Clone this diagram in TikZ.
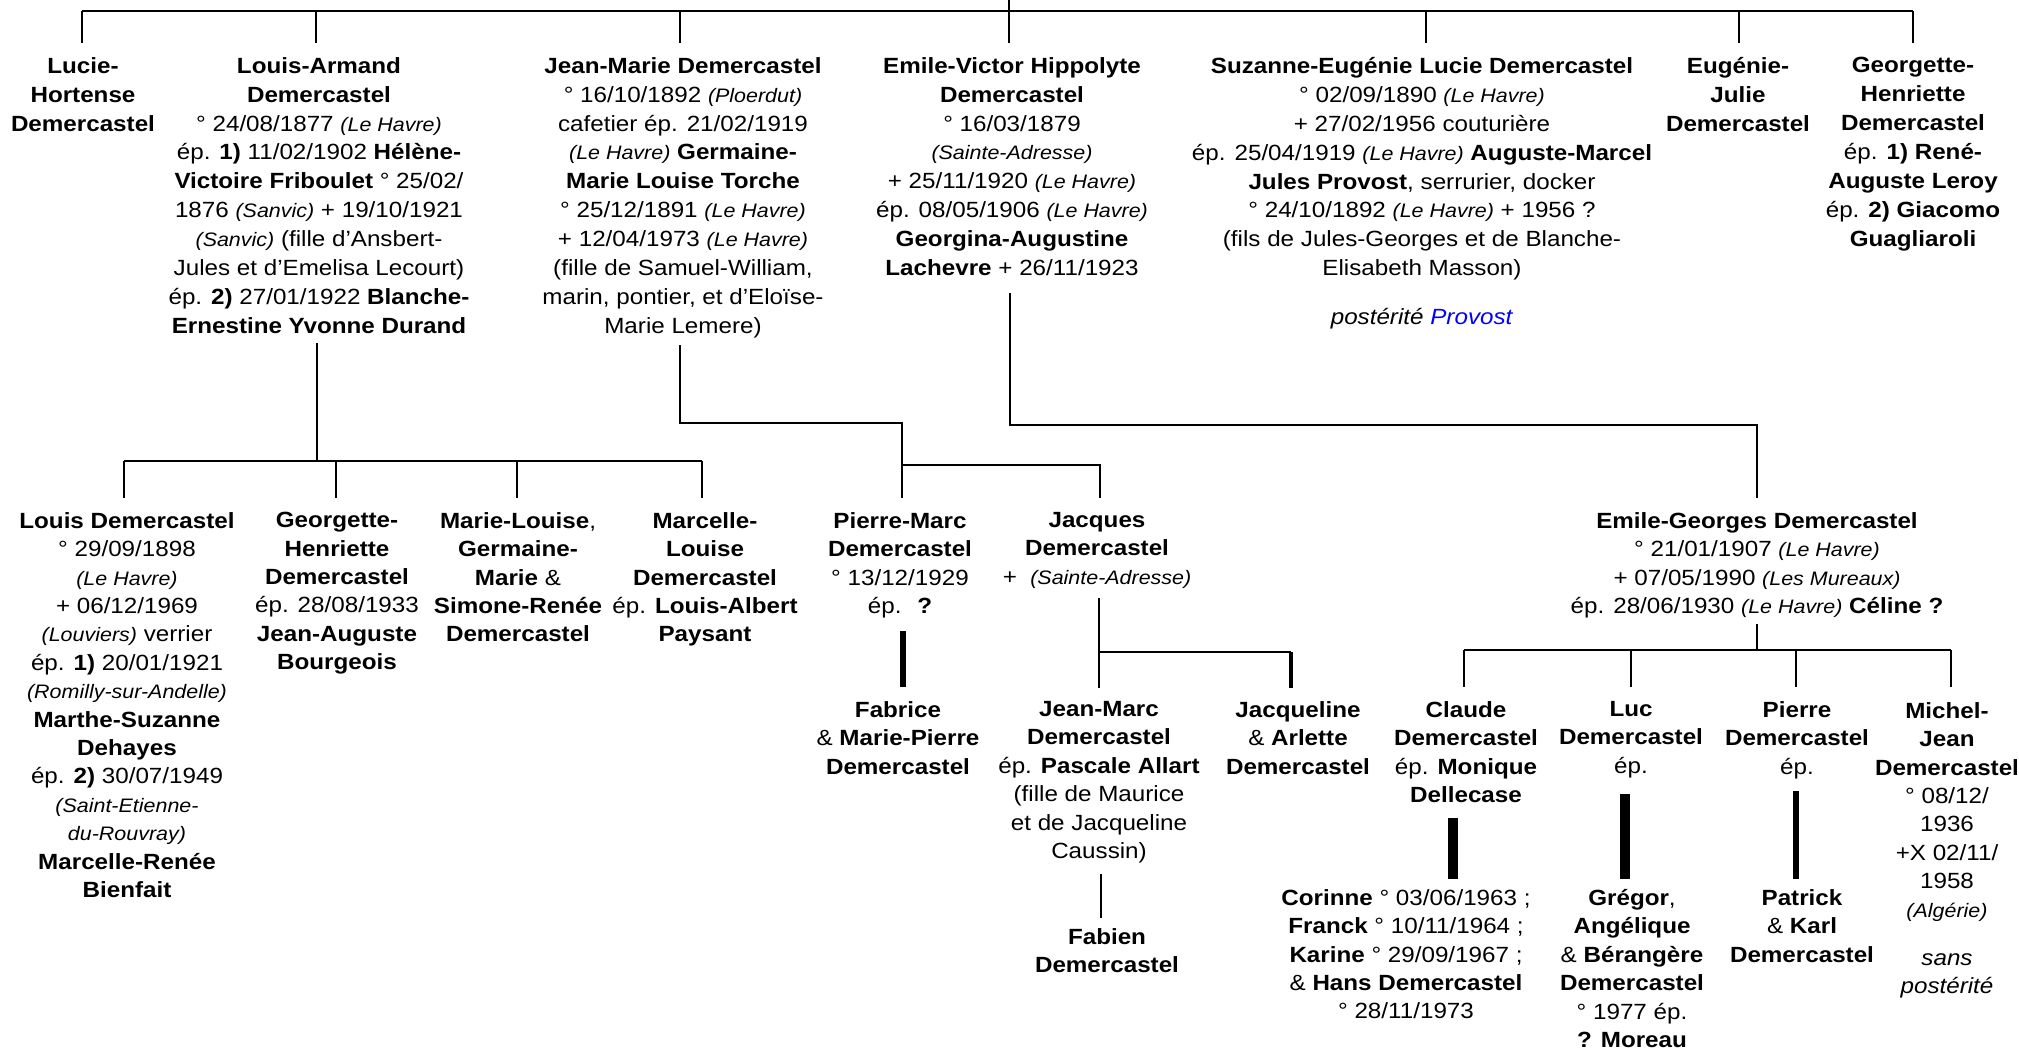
\documentclass[tikz,border=0pt]{standalone}
\usepackage{fontspec}
\setmainfont{Liberation Sans}[FakeStretch=1.1]
\newcommand\plc[1]{{\fontsize{19.5}{28.4}\selectfont\itshape #1}}
\newcommand\nm[1]{\textbf{#1}}
\begin{document}
\begin{tikzpicture}[x=1pt,y=-1pt,
  person/.style={align=center, anchor=north, yshift=19.9pt, inner sep=0pt,
    font=\fontsize{22}{28.4}\selectfont, execute at begin node={\rule{0pt}{19.9pt}}},
  toprow/.style={person, font=\fontsize{22}{28.9}\selectfont},
  link/.style={line width=2.6pt, line join=miter, line cap=butt},
  heavy/.style={line width=#1, line cap=butt}]
\fill[white] (0,0) rectangle (2019,1050);
\useasboundingbox (0,0) rectangle (2019,1050);

% ---------- generation 1 ----------
\node[toprow] (lucie) at (83,77) {\nm{Lucie-}\\\nm{Hortense}\\\nm{Demercastel}};
\node[toprow] (louisA) at (319,77) {\nm{Louis-Armand}\\\nm{Demercastel}\\
° 24/08/1877 \plc{(Le Havre)}\\
ép. \nm{1)} 11/02/1902 \nm{Hélène-}\\
\nm{Victoire Friboulet} ° 25/02/\\
1876 \plc{(Sanvic)} + 19/10/1921\\
\plc{(Sanvic)} (fille d’Ansbert-\\
Jules et d’Emelisa Lecourt)\\
ép. \nm{2)} 27/01/1922 \nm{Blanche-}\\
\nm{Ernestine Yvonne Durand}};
\node[toprow] (jeanM) at (683,77) {\nm{Jean-Marie Demercastel}\\
° 16/10/1892 \plc{(Ploerdut)}\\
cafetier ép. 21/02/1919\\
\plc{(Le Havre)} \nm{Germaine-}\\
\nm{Marie Louise Torche}\\
° 25/12/1891 \plc{(Le Havre)}\\
+ 12/04/1973 \plc{(Le Havre)}\\
(fille de Samuel-William,\\
marin, pontier, et d’Eloïse-\\
Marie Lemere)};
\node[toprow] (emileV) at (1012,77) {\nm{Emile-Victor Hippolyte}\\\nm{Demercastel}\\
° 16/03/1879\\
\plc{(Sainte-Adresse)}\\
+ 25/11/1920 \plc{(Le Havre)}\\
ép. 08/05/1906 \plc{(Le Havre)}\\
\nm{Georgina-Augustine}\\
\nm{Lachevre} + 26/11/1923};
\node[toprow] (suzanne) at (1422,77) {\nm{Suzanne-Eugénie Lucie Demercastel}\\
° 02/09/1890 \plc{(Le Havre)}\\
+ 27/02/1956 couturière\\
ép. 25/04/1919 \plc{(Le Havre)} \nm{Auguste-Marcel}\\
\nm{Jules Provost}, serrurier, docker\\
° 24/10/1892 \plc{(Le Havre)} + 1956 ?\\
(fils de Jules-Georges et de Blanche-\\
Elisabeth Masson)};
\node[person] (provost) at (1422,324) {\textit{postérité} \textcolor{blue}{\textit{Provost}}};
\node[toprow] (eugenie) at (1738,77) {\nm{Eugénie-}\\\nm{Julie}\\\nm{Demercastel}};
\node[toprow] (georgette) at (1913,77) {\nm{Georgette-}\\\nm{Henriette}\\\nm{Demercastel}\\
ép. \nm{1) René-}\\\nm{Auguste Leroy}\\ép. \nm{2) Giacomo}\\\nm{Guagliaroli}};

% ---------- generation 2 ----------
\node[person] (louis) at (127,532) {\nm{Louis Demercastel}\\
° 29/09/1898\\
\plc{(Le Havre)}\\
+ 06/12/1969\\
\plc{(Louviers)} verrier\\
ép. \nm{1)} 20/01/1921\\
\plc{(Romilly-sur-Andelle)}\\
\nm{Marthe-Suzanne}\\
\nm{Dehayes}\\
ép. \nm{2)} 30/07/1949\\
\plc{(Saint-Etienne-}\\
\plc{du-Rouvray)}\\
\nm{Marcelle-Renée}\\
\nm{Bienfait}};
\node[person] (georgette2) at (337,532) {\nm{Georgette-}\\\nm{Henriette}\\\nm{Demercastel}\\
ép. 28/08/1933\\\nm{Jean-Auguste}\\\nm{Bourgeois}};
\node[person] (marieL) at (518,532) {\nm{Marie-Louise}, \\\nm{Germaine-}\\\nm{Marie} \& \\\nm{Simone-Renée}\\\nm{Demercastel}};
\node[person] (marcelle) at (705,532) {\nm{Marcelle-}\\\nm{Louise}\\\nm{Demercastel}\\ép. \nm{Louis-Albert}\\\nm{Paysant}};
\node[person] (pierreM) at (900,532) {\nm{Pierre-Marc}\\\nm{Demercastel}\\° 13/12/1929\\ép.~ \nm{?}};
\node[person] (jacques) at (1097,532) {\nm{Jacques}\\\nm{Demercastel}\\+~ \plc{(Sainte-Adresse)}};
\node[person] (emileG) at (1757,532) {\nm{Emile-Georges Demercastel}\\
° 21/01/1907 \plc{(Le Havre)}\\
+ 07/05/1990 \plc{(Les Mureaux)}\\
ép. 28/06/1930 \plc{(Le Havre)} \nm{Céline ?}};

% ---------- generation 3 ----------
\node[person] (fabrice) at (898,721) {\nm{Fabrice}\\\& \nm{Marie-Pierre}\\\nm{Demercastel}};
\node[person] (jeanMarc) at (1099,721) {\nm{Jean-Marc}\\\nm{Demercastel}\\ép. \nm{Pascale Allart}\\(fille de Maurice\\et de Jacqueline\\Caussin)};
\node[person] (jacqueline) at (1298,721) {\nm{Jacqueline}\\\& \nm{Arlette}\\\nm{Demercastel}};
\node[person] (claude) at (1466,721) {\nm{Claude}\\\nm{Demercastel}\\ép. \nm{Monique}\\\nm{Dellecase}};
\node[person] (luc) at (1631,721) {\nm{Luc}\\\nm{Demercastel}\\ép.};
\node[person] (pierre) at (1797,721) {\nm{Pierre}\\\nm{Demercastel}\\ép.};
\node[person] (michel) at (1947,722) {\nm{Michel-}\\\nm{Jean}\\\nm{Demercastel}\\° 08/12/\\1936\\+X 02/11/\\1958\\\plc{(Algérie)}};
\node[person] (sans) at (1947,973) {\textit{sans}\\\textit{postérité}};

% ---------- generation 4 ----------
\node[person] (fabien) at (1107,948) {\nm{Fabien}\\\nm{Demercastel}};
\node[person] (corinne) at (1406,909) {\nm{Corinne} ° 03/06/1963 ;\\\nm{Franck} ° 10/11/1964 ;\\\nm{Karine} ° 29/09/1967 ;\\\& \nm{Hans Demercastel}\\° 28/11/1973};
\node[person] (gregor) at (1632,909) {\nm{Grégor},\\\nm{Angélique}\\\& \nm{Bérangère}\\\nm{Demercastel}\\° 1977 ép.\\\nm{? Moreau}};
\node[person] (patrick) at (1802,909) {\nm{Patrick}\\\& \nm{Karl}\\\nm{Demercastel}};

% ---------- connector points ----------
\coordinate (root) at (1009,0);
\coordinate (barL) at (82,11);
\coordinate (barR) at (1913,11);
\foreach \x/\n in {82/lucie,316/louisA,680/jeanM,1009/emileV,1426/suzanne,1739/eugenie,1913/georgette}{
  \coordinate (\n-top) at (\x,43);
  \coordinate (\n-bar) at (\x,11);
}
% Louis-Armand family
\coordinate (louisA-d) at (317,343);
\coordinate (louisA-j) at (317,461);
\coordinate (lakids-L) at (124,461);
\coordinate (lakids-R) at (702,461);
\foreach \x/\n in {124/louis,336/georgette2,517/marieL,702/marcelle}{
  \coordinate (\n-up) at (\x,461);
  \coordinate (\n-top) at (\x,498);
}
% Jean-Marie family
\coordinate (jeanM-d) at (680,345);
\coordinate (jeanM-k) at (680,423);
\coordinate (pierreM-k) at (902,423);
\coordinate (pierreM-up) at (902,465);
\coordinate (pierreM-top) at (902,498);
\coordinate (jacques-up) at (1100,465);
\coordinate (jacques-top) at (1100,498);
% Emile-Victor family
\coordinate (emileV-d) at (1010,293);
\coordinate (emileV-k) at (1010,425);
\coordinate (emileG-k) at (1757,425);
\coordinate (emileG-top) at (1757,498);
% Emile-Georges family
\coordinate (emileG-d) at (1757,624);
\coordinate (emileG-j) at (1757,650);
\foreach \x/\n in {1464/claude,1631/luc,1796/pierre,1951/michel}{
  \coordinate (\n-up) at (\x,650);
  \coordinate (\n-top) at (\x,687);
}
% Jacques family
\coordinate (jacques-d) at (1099,598);
\coordinate (jeanMarc-top) at (1099,688);
\coordinate (jacques-j) at (1099,652);
\coordinate (jacqueline-up) at (1291,652);
\coordinate (jacqueline-top) at (1291,688);
% descent bars
\coordinate (pierreM-d) at (903,631);
\coordinate (fabrice-top) at (903,687);
\coordinate (jeanMarc-d) at (1101,874);
\coordinate (fabien-top) at (1101,918);
\coordinate (claude-d) at (1453,818);
\coordinate (corinne-top) at (1453,879);
\coordinate (luc-d) at (1625,794);
\coordinate (gregor-top) at (1625,879);
\coordinate (pierre-d) at (1796,791);
\coordinate (patrick-top) at (1796,879);

% ---------- connectors ----------
\draw[link] (barL) -- (barR);
\draw[link] (root) -- (emileV-top);
\foreach \n in {lucie,louisA,jeanM,suzanne,eugenie,georgette}{
  \draw[link] (\n-bar) -- (\n-top);
}
\draw[link] (louisA-d) -- (louisA-j);
\draw[link] (lakids-L) -- (lakids-R);
\foreach \n in {louis,georgette2,marieL,marcelle}{
  \draw[link] (\n-up) -- (\n-top);
}
\draw[link] (jeanM-d) -- (jeanM-k) -- (pierreM-k) -- (pierreM-top);
\draw[link] (pierreM-up) -- (jacques-up) -- (jacques-top);
\draw[link] (emileV-d) -- (emileV-k) -- (emileG-k) -- (emileG-top);
\draw[link] (emileG-d) -- (emileG-j);
\draw[link] (claude-up) -- (michel-up);
\foreach \n in {claude,luc,pierre,michel}{
  \draw[link] (\n-up) -- (\n-top);
}
\draw[link] (jacques-d) -- (jeanMarc-top);
\draw[link] (jacques-j) -- (jacqueline-up);
\draw[heavy=4.7pt] (jacqueline-up) -- (jacqueline-top);
\draw[heavy=5.3pt] (pierreM-d) -- (fabrice-top);
\draw[link] (jeanMarc-d) -- (fabien-top);
\draw[heavy=10pt] (claude-d) -- (corinne-top);
\draw[heavy=10pt] (luc-d) -- (gregor-top);
\draw[heavy=5.5pt] (pierre-d) -- (patrick-top);
\end{tikzpicture}
\end{document}
